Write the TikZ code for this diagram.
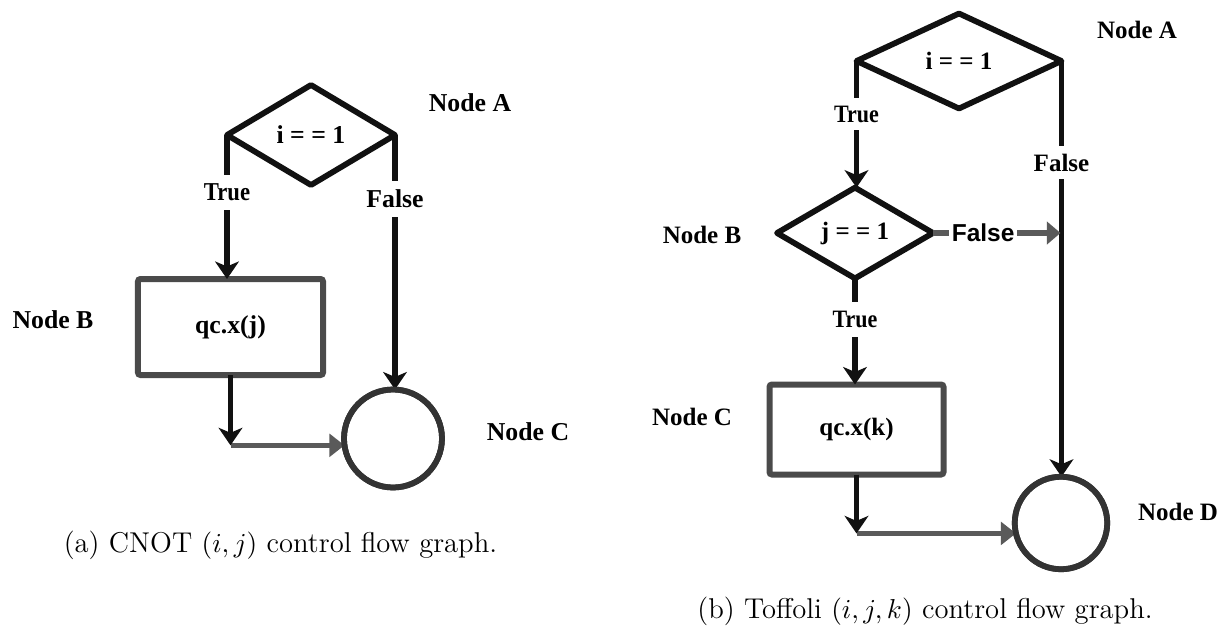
\documentclass[tikz,border=0pt]{standalone}
\usepackage{fontspec}
\newfontfamily\tms{Liberation Serif}
\newfontfamily\tmsc[FakeStretch=0.88]{Liberation Serif}
\newfontfamily\ars{Liberation Sans}
\usetikzlibrary{shapes.geometric,arrows.meta,calc}
\definecolor{boxgray}{HTML}{4A4A4A}
\definecolor{circgray}{HTML}{333333}
\definecolor{arrgray}{HTML}{5A5A5A}
\definecolor{linek}{HTML}{111111}
\begin{document}
\begin{tikzpicture}[x=0.4pt,y=-0.4pt,
  fl/.style={font=\tms\bfseries\fontsize{10.3}{12}\selectfont},
  fr/.style={font=\tms\bfseries\fontsize{10}{12}\selectfont},
  ftl/.style={font=\tmsc\bfseries\fontsize{10.3}{12}\selectfont},
  ftr/.style={font=\tmsc\bfseries\fontsize{10}{12}\selectfont},
  lab/.style={inner sep=0pt},
  dia/.style={diamond, draw=linek, line width=2.3pt, inner sep=0pt, outer sep=0pt, line join=round},
  boxn/.style={rectangle, draw=boxgray, line width=2.4pt, rounded corners=1pt, outer sep=0pt},
  circ/.style={circle, draw=circgray, line width=2.3pt, outer sep=0pt, inner sep=0pt},
  conn/.style={draw=linek, line width=2.2pt, -{Stealth[length=7pt,width=9.5pt,inset=2pt]}},
  gconn/.style={draw=arrgray, line width=2.2pt, -{Triangle[length=6pt,width=9pt]}},
  gconnh/.style={draw=arrgray, line width=2.2pt, -{Triangle[length=5.5pt,width=9pt]}, shorten >=0.4pt},
  onlab/.style={fill=white, inner xsep=1pt, inner ysep=3.6pt, text=black},
  capt/.style={font=\fontsize{11.45}{13}\selectfont, inner sep=0pt}
]
\useasboundingbox (0,0) rectangle (1228,628);

% ---------- (a) ----------
\node[dia, fl, minimum width=67.2pt, minimum height=40pt] (A) at (311,135) {i = = 1};
\node[boxn, fl, minimum width=74pt, minimum height=38.4pt] (B) at (230.5,327) {qc.x(j)};
\node[lab, fl] (nA) at (470,103) {Node A};
\node[lab, fl] (nB) at (53,320) {Node B};
\node[lab, fl] (nC) at (528,432) {Node C};

\path (393,438.5) coordinate (Cpos);
\node[circ, minimum size=39.2pt] (C) at (Cpos) {};
\draw[conn] (A.west) -- (A.west |- B.north)
  node[onlab, pos=0.40, ftl] (tA) {True};
\draw[conn] (A.east) -- (A.east |- C.north)
  node[onlab, pos=0.25, fl] (fA) {False};
\coordinate (bc) at (B.south |- C.188);
\draw[gconn] (bc) -- (C.188);
\draw[conn] (B.south) -- (bc);
\node[circ, minimum size=39.2pt] at (Cpos) {};

\node[capt] (capA) at (280.5,545) {(a) CNOT $(i,j)$ control flow graph.};

% ---------- (b) ----------
\node[dia, fr, minimum width=82pt, minimum height=38pt] (A2) at (959,61) {i = = 1};
\node[dia, fr, minimum width=62.4pt, minimum height=36pt] (B2) at (855,233) {j = = 1};
\node[boxn, fr, minimum width=69.6pt, minimum height=36pt] (C2) at (856.5,429.5) {qc.x(k)};
\path (1061,523) coordinate (Dpos);
\node[circ, minimum size=37pt] (D2) at (Dpos) {};
\node[lab, fr] (nA2) at (1137,30) {Node A};
\node[lab, fr] (nB2) at (702,235) {Node B};
\node[lab, fr] (nC2) at (692,417) {Node C};
\node[lab, fr] (nD2) at (1178,512) {Node D};

\draw[conn] (A2.west) -- (A2.west |- B2.north)
  node[onlab, pos=0.42, ftr, inner ysep=3pt] (tA2) {True};
\draw[conn] (A2.east) -- (A2.east |- D2.north)
  node[onlab, pos=0.244, fr, inner ysep=3.2pt] (fA2) {False};
\coordinate (fj) at (A2.east |- B2.east);
\draw[gconnh] (B2.east) -- (fj)
  node[onlab, pos=0.39, font=\ars\bfseries\fontsize{9.8}{12}\selectfont] (fB2) {False};
\draw[conn] (B2.south) -- (B2.south |- C2.north)
  node[onlab, pos=0.39, ftr] (tB2) {True};
\coordinate (cd) at (C2.south |- D2.193);
\draw[gconn] (cd) -- (D2.193);
\draw[conn] (C2.south) -- (cd);
\node[circ, minimum size=37pt] at (Dpos) {};

\node[capt] (capB) at (925,611) {(b) Toffoli $(i,j,k)$ control flow graph.};
\end{tikzpicture}
\end{document}
